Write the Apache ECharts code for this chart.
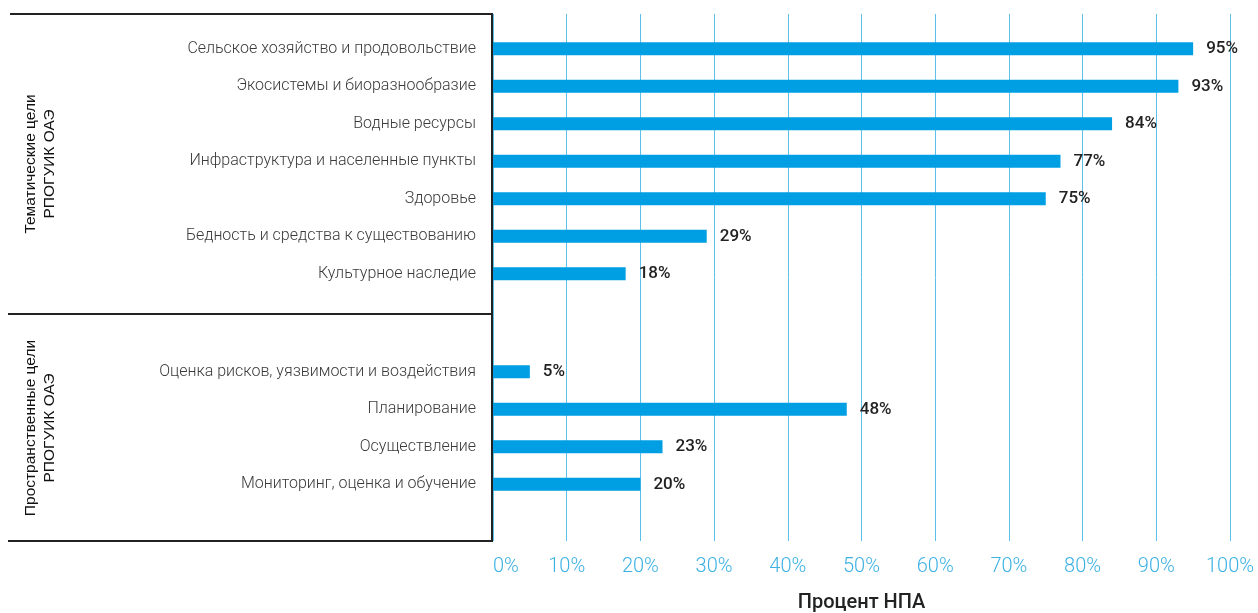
<!DOCTYPE html>
<html>
<head>
<meta charset="utf-8">
<script src="https://cdn.jsdelivr.net/npm/echarts@6/dist/echarts.min.js"></script>
<style>
  html, body { margin: 0; padding: 0; background: #fff; }
  #chart { width: 1258px; height: 613px; }
</style>
</head>
<body>
<div id="chart"></div>
<script>
  // thematic goals
  const themeCats = [
    'Сельское хозяйство и продовольствие',
    'Экосистемы и биоразнообразие',
    'Водные ресурсы',
    'Инфраструктура и населенные пункты',
    'Здоровье',
    'Бедность и средства к существованию',
    'Культурное наследие'
  ]
  const themeVals = [95, 93, 84, 77, 75, 29, 18]

  // spatial goals
  const spaceCats = [
    'Оценка рисков, уязвимости и воздействия',
    'Планирование',
    'Осуществление',
    'Мониторинг, оценка и обучение'
  ]
  const spaceVals = [5, 48, 23, 20]

  const groupNames = ['Тематические цели\nРПОГУИК ОАЭ', 'Пространственные цели\nРПОГУИК ОАЭ']
  const xTitle = 'Процент НПА'

  const plotLeft = 493
  const plotWidth = 737
  const barColor = '#009fe3'
  const lineColor = '#222'

  const chart = echarts.init(document.getElementById('chart'))

  const catAxis = (gi, cats) => ({
    type: 'category',
    gridIndex: gi,
    inverse: true,
    data: cats,
    axisLine: { show: false },
    axisTick: { show: false },
    axisLabel: {
      color: '#3a3a3a',
      fontSize: 16,
      fontWeight: 300,
      fontFamily: 'Roboto',
      margin: 17
    }
  })
  const hiddenX = (gi) => ({
    type: 'value', gridIndex: gi, min: 0, max: 100,
    show: false, splitLine: { show: false }
  })
  const barSeries = (gi, vals) => ({
    type: 'bar',
    xAxisIndex: gi,
    yAxisIndex: gi,
    data: vals,
    barWidth: 13,
    itemStyle: { color: barColor },
    label: {
      show: true,
      position: 'right',
      distance: 13,
      formatter: '{c}%',
      color: '#222',
      fontSize: 17,
      fontWeight: 500,
      fontFamily: 'Roboto'
    }
  })

  const option = {
    animation: false,
    grid: [
      { left: plotLeft, width: plotWidth, top: 14, height: 527, outerBoundsMode: 'none' },
      { left: plotLeft, width: plotWidth, top: 30, height: 262.5, outerBoundsMode: 'none' },
      { left: plotLeft, width: plotWidth, top: 353, height: 150, outerBoundsMode: 'none' }
    ],
    xAxis: [
      {
        type: 'value', gridIndex: 0, min: 0, max: 100, interval: 10,
        axisLine: { show: false },
        axisTick: { show: false },
        splitLine: { lineStyle: { color: '#5cc0ea', width: 1 } },
        axisLabel: {
          formatter: '{value}%',
          color: '#3cb1e4',
          fontSize: 20,
          fontWeight: 300,
          fontFamily: 'Roboto',
          margin: 16,
          alignMinLabel: 'left'
        },
        name: xTitle,
        nameLocation: 'middle',
        nameGap: 52,
        nameTextStyle: { color: '#222', fontSize: 20, fontWeight: 500, fontFamily: 'Roboto' }
      },
      hiddenX(1),
      hiddenX(2)
    ],
    yAxis: [
      { type: 'value', gridIndex: 0, show: false },
      catAxis(1, themeCats),
      catAxis(2, spaceCats)
    ],
    series: [
      barSeries(1, themeVals),
      barSeries(2, spaceVals)
    ],
    graphic: [
      { type: 'line', shape: { x1: 10, y1: 14, x2: 493, y2: 14 }, style: { stroke: lineColor, lineWidth: 2 } },
      { type: 'line', shape: { x1: 8, y1: 314, x2: 493, y2: 314 }, style: { stroke: lineColor, lineWidth: 2 } },
      { type: 'line', shape: { x1: 8, y1: 541, x2: 493, y2: 541 }, style: { stroke: lineColor, lineWidth: 2 } },
      { type: 'line', shape: { x1: 492, y1: 13, x2: 492, y2: 542 }, style: { stroke: lineColor, lineWidth: 2 } },
      {
        type: 'text', x: 40, y: 164, rotation: Math.PI / 2,
        style: {
          text: groupNames[0], fill: '#111', fontSize: 15.5,
          fontFamily: 'Liberation Sans', align: 'center', verticalAlign: 'middle', lineHeight: 19
        }
      },
      {
        type: 'text', x: 40, y: 428, rotation: Math.PI / 2,
        style: {
          text: groupNames[1], fill: '#111', fontSize: 15.5,
          fontFamily: 'Liberation Sans', align: 'center', verticalAlign: 'middle', lineHeight: 19
        }
      }
    ]
  }
  chart.setOption(option)
</script>
</body>
</html>
